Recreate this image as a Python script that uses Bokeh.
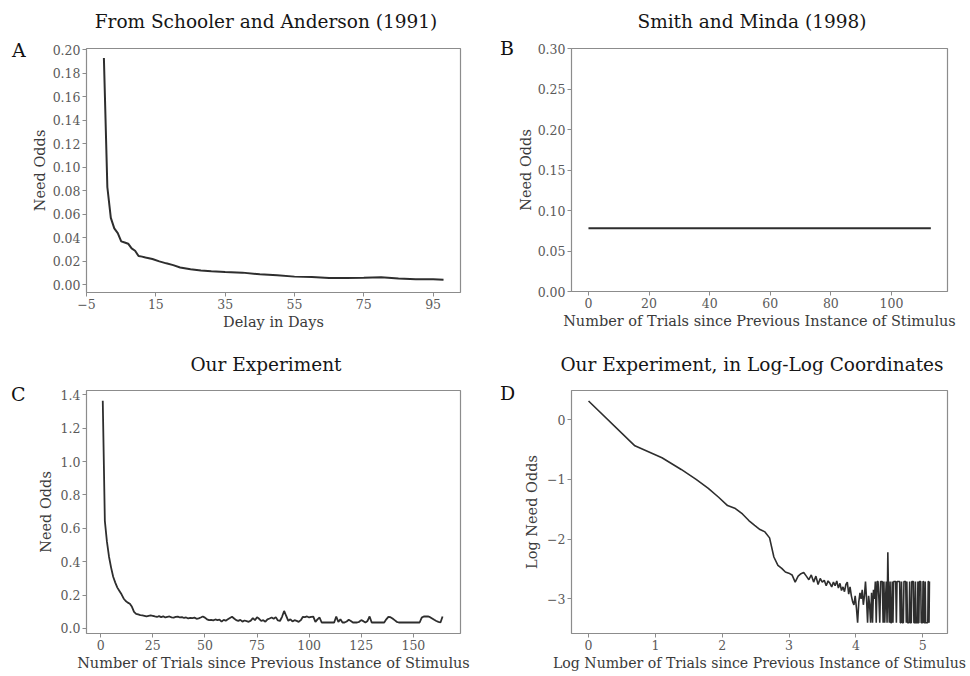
import numpy as np
from bokeh.plotting import figure
from bokeh.models import Range1d, FixedTicker, CustomJSTickFormatter, Div
from bokeh.layouts import column, row
from bokeh.embed import file_html
from bokeh.resources import INLINE

# ---------------- data ----------------
# Panel A: Schooler & Anderson (1991)
a_days = [0, 1, 2, 3, 4, 5, 6, 7, 8, 9, 10, 11, 12, 14, 16, 18, 20, 22, 25, 28,
          31, 35, 40, 45, 50, 55, 60, 65, 70, 75, 80, 85, 90, 95, 98]
a_odds = [0.193, 0.083, 0.057, 0.048, 0.044, 0.037, 0.036, 0.035, 0.031, 0.029,
          0.0245, 0.024, 0.0232, 0.022, 0.020, 0.0183, 0.0168, 0.0148, 0.0133, 0.0122,
          0.0116, 0.0110, 0.0104, 0.0090, 0.0082, 0.0070, 0.0066, 0.0058, 0.0058, 0.0060,
          0.0064, 0.0055, 0.0048, 0.0048, 0.0044]
a_xticks = [-5, 15, 35, 55, 75, 95]
a_yticks = [0.00, 0.02, 0.04, 0.06, 0.08, 0.10, 0.12, 0.14, 0.16, 0.18, 0.20]

# Panel B: Smith & Minda (1998)
b_trials = [0, 113]
b_odds = [0.078, 0.078]
b_xticks = [0, 20, 40, 60, 80, 100]
b_yticks = [0.00, 0.05, 0.10, 0.15, 0.20, 0.25, 0.30]

# Panel C: our experiment
c_trials = list(range(1, 165))
c_odds = [1.365, 0.645, 0.52, 0.43, 0.365, 0.31, 0.275, 0.245, 0.225, 0.205,
          0.18, 0.165, 0.155, 0.148, 0.13, 0.10, 0.088, 0.084, 0.080, 0.079,
          0.076, 0.072, 0.075, 0.078, 0.076, 0.072, 0.069, 0.074, 0.068, 0.073,
          0.066, 0.070, 0.072, 0.067, 0.065, 0.069, 0.071, 0.066, 0.068, 0.063,
          0.066, 0.060, 0.064, 0.062, 0.065, 0.058, 0.061, 0.066, 0.072, 0.065,
          0.055, 0.050, 0.052, 0.049, 0.054, 0.050, 0.053, 0.041, 0.052, 0.047,
          0.055, 0.063, 0.070, 0.060, 0.050, 0.046, 0.052, 0.041, 0.048, 0.044,
          0.040, 0.047, 0.062, 0.050, 0.068, 0.058, 0.045, 0.050, 0.041, 0.055,
          0.060, 0.066, 0.058, 0.068, 0.048, 0.045, 0.070, 0.105, 0.075, 0.046,
          0.055, 0.042, 0.050, 0.046, 0.040, 0.050, 0.070, 0.068, 0.072, 0.066,
          0.070, 0.071, 0.040, 0.055, 0.066, 0.036, 0.036, 0.036, 0.036, 0.036,
          0.036, 0.036, 0.072, 0.040, 0.055, 0.036, 0.036, 0.042, 0.052, 0.045,
          0.036, 0.036, 0.036, 0.040, 0.050, 0.044, 0.036, 0.045, 0.072, 0.036,
          0.036, 0.036, 0.036, 0.036, 0.036, 0.036, 0.055, 0.070, 0.068, 0.060,
          0.050, 0.040, 0.036, 0.036, 0.036, 0.036, 0.036, 0.036, 0.036, 0.036,
          0.036, 0.036, 0.036, 0.065, 0.072, 0.072, 0.072, 0.068, 0.060, 0.052,
          0.045, 0.040, 0.036, 0.072]
c_xticks = [0, 25, 50, 75, 100, 125, 150]
c_yticks = [0.0, 0.2, 0.4, 0.6, 0.8, 1.0, 1.2, 1.4]

# Panel D: log-log
d_trials = list(range(1, 165))
d_log_odds = [0.31, -0.44, -0.64, -0.835, -1.00, -1.15, -1.30, -1.44, -1.49, -1.58,
              -1.69, -1.77, -1.84, -1.88, -1.98, -2.30, -2.44, -2.49, -2.55, -2.57,
              -2.60, -2.72, -2.62, -2.58, -2.56, -2.62, -2.68, -2.60, -2.72, -2.62,
              -2.76, -2.66, -2.72, -2.69, -2.78, -2.70, -2.74, -2.80, -2.72, -2.78,
              -2.70, -2.82, -2.74, -2.86, -2.80, -2.88, -2.76, -2.72, -2.92, -2.80,
              -2.95, -3.05, -3.10, -2.95, -3.15, -3.40, -3.05, -2.90, -3.00, -2.85,
              -3.10, -2.95, -2.71, -3.00, -3.40, -2.95, -3.10, -3.40, -2.90, -3.40,
              -2.85, -3.00, -2.71, -3.40, -2.71, -2.71, -3.00, -3.40, -2.71, -2.71,
              -2.71, -3.40, -2.71, -3.40, -3.00, -2.71, -3.40, -2.22, -3.00, -3.40,
              -2.71, -3.40, -3.40, -2.71, -3.40, -2.71, -2.71, -2.71, -2.71, -3.40,
              -2.71, -2.71, -2.71, -2.71, -2.71, -3.40, -3.40, -2.71, -3.40, -3.40,
              -3.40, -2.71, -2.71, -2.71, -2.71, -3.40, -2.71, -3.40, -3.40, -3.40,
              -3.40, -2.71, -3.40, -3.40, -3.40, -2.71, -2.71, -2.71, -2.71, -3.40,
              -3.40, -3.40, -2.71, -3.40, -3.40, -3.40, -3.40, -2.71, -3.40, -3.40,
              -2.71, -2.71, -2.71, -2.71, -3.40, -3.40, -3.40, -3.40, -2.71, -2.71,
              -3.40, -3.40, -3.40, -2.71, -3.40, -3.40, -3.40, -3.40, -3.40, -3.40,
              -2.71, -2.71, -3.40, -2.71]
d_xticks = [0, 1, 2, 3, 4, 5]
d_yticks = [0, -1, -2, -3]

panel_letters = ["A", "B", "C", "D"]
panel_titles = ["From Schooler and Anderson (1991)", "Smith and Minda (1998)",
                "Our Experiment", "Our Experiment, in Log-Log Coordinates"]

# ---------------- styling ----------------
FONT = "DejaVu Serif"
LINE = "#2e2e2e"
FRAME = "#8c8c8c"
CELL_W = 485
FRAME_LEFT = 86
TITLE_H = 36


def fmt(decimals):
    return CustomJSTickFormatter(code="""
        const s = Math.abs(tick).toFixed(%d);
        return (tick < -1e-12 ? "\\u2212" : "") + s;
    """ % decimals)


def letter_strip(letter, strip_w, pad_left, pad_top):
    html = ('<div style="font-family:\'DejaVu Serif\'; font-size:19px; line-height:19px; '
            'color:#111111; padding-left:%dpx; padding-top:%dpx;">%s</div>'
            % (pad_left, pad_top, letter))
    return Div(text=html, width=strip_w, height=338, margin=0)


def title_strip(text, strip_w, pad_top, right):
    plot_w = CELL_W - strip_w
    border_l = FRAME_LEFT - strip_w
    frame_w = plot_w - border_l - right
    box_w = frame_w + 60
    left = border_l - 7 - 30
    html = ('<div style="font-family:\'DejaVu Serif\'; font-size:18.5px; line-height:18.5px; '
            'color:#161616; white-space:nowrap; text-align:center; width:%dpx; '
            'margin-left:%dpx; padding-top:%dpx;">%s</div>' % (box_w, left, pad_top, text))
    return Div(text=html, width=plot_w, height=TITLE_H, margin=0)


def make(strip_w, xlabel, ylabel, xr, yr, xt, yt, xd, yd, top, bottom, right,
         ylabel_standoff, xlabel_size="14.5px"):
    p = figure(width=CELL_W - strip_w, height=338 - TITLE_H,
               x_range=Range1d(*xr), y_range=Range1d(*yr),
               output_backend="svg", toolbar_location=None, title_location=None,
               min_border_left=FRAME_LEFT - strip_w, min_border_right=right,
               min_border_top=top - TITLE_H, min_border_bottom=bottom)
    p.grid.visible = False
    p.outline_line_color = FRAME
    p.outline_line_width = 1.2
    p.background_fill_color = "white"
    p.border_fill_color = "white"
    for ax in (p.xaxis[0], p.yaxis[0]):
        ax.axis_line_color = None
        ax.major_tick_line_color = FRAME
        ax.major_tick_out = 4
        ax.major_tick_in = 0
        ax.minor_tick_line_color = None
        ax.major_label_text_font = FONT
        ax.major_label_text_font_size = "12.5px"
        ax.major_label_text_color = "#5a5a5a"
        ax.axis_label_text_font = FONT
        ax.axis_label_text_font_size = "14.5px"
        ax.axis_label_text_font_style = "normal"
        ax.axis_label_text_color = "#3a3a3a"
    p.xaxis.axis_label_text_font_size = xlabel_size
    p.xaxis.axis_label = xlabel
    p.yaxis.axis_label = ylabel
    p.xaxis.ticker = FixedTicker(ticks=xt)
    p.yaxis.ticker = FixedTicker(ticks=yt)
    p.xaxis.formatter = fmt(xd)
    p.yaxis.formatter = fmt(yd)
    p.xaxis.major_label_standoff = 2
    p.xaxis.axis_label_standoff = 2
    p.yaxis.major_label_standoff = 2
    p.yaxis.axis_label_standoff = ylabel_standoff
    return p


SW_L = 26   # letter strip width, left column
SW_R = 29   # letter strip width, right column

pA = make(SW_L, "Delay in Days", "Need Odds",
          (-5.02, 102.9), (-0.0065, 0.201), a_xticks, a_yticks, 0, 2, 48, 46, 25, 2)
pA.line(a_days, a_odds, line_color=LINE, line_width=2)

pB = make(SW_R, "Number of Trials since Previous Instance of Stimulus",
          "Need Odds", (-5.6, 118.5), (0.0, 0.30), b_xticks, b_yticks, 0, 2, 48, 47, 23, 1)
pB.line(b_trials, b_odds, line_color=LINE, line_width=2)

pC = make(SW_L, "Number of Trials since Previous Instance of Stimulus",
          "Need Odds", (-6.8, 172.6), (-0.03, 1.426), c_xticks, c_yticks, 0, 1, 52, 43, 25, 4)
pC.line(c_trials, c_odds, line_color=LINE, line_width=1.8)

pD = make(SW_R, "Log Number of Trials since Previous Instance of Stimulus", "Log Need Odds",
          (-0.255, 5.37), (-3.58, 0.486), d_xticks, d_yticks, 0, 0, 52, 43, 23, 4,
          xlabel_size="14.1px")
pD.line(np.log(np.array(d_trials, dtype=float)), d_log_odds, line_color=LINE, line_width=1.6)

tA = title_strip(panel_titles[0], SW_L, 13, 25)
tB = title_strip(panel_titles[1], SW_R, 13, 23)
tC = title_strip(panel_titles[2], SW_L, 18, 25)
tD = title_strip(panel_titles[3], SW_R, 18, 23)

sA = letter_strip(panel_letters[0], SW_L, 12, 41)
sB = letter_strip(panel_letters[1], SW_R, 15, 39)
sC = letter_strip(panel_letters[2], SW_L, 11, 47)
sD = letter_strip(panel_letters[3], SW_R, 15, 46)

layout = column(row(sA, column(tA, pA), sB, column(tB, pB)),
                row(sC, column(tC, pC), sD, column(tD, pD)))
open("out.html", "w").write(file_html(layout, INLINE))
